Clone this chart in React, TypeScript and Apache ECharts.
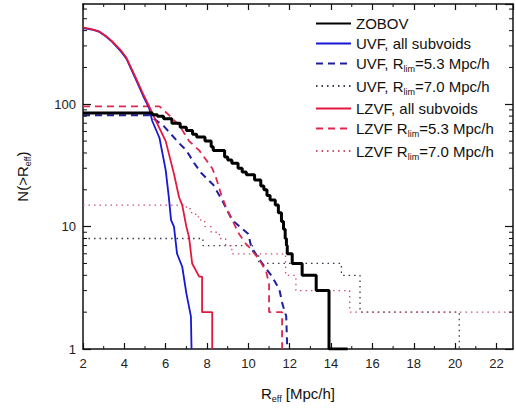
import React, { useEffect, useRef } from "react";
import * as echarts from "echarts";

const FONT = "Liberation Sans, Arial, Helvetica, sans-serif";

const X_MIN = 2;
const X_MAX = 22.8;
const Y_MIN = 1;
const Y_MAX = 660;

const SERIES_NAMES = [
  "ZOBOV",
  "UVF, all subvoids",
  "UVF, Rlim=5.3",
  "UVF, Rlim=7.0",
  "LZVF, all subvoids",
  "LZVF Rlim=5.3",
  "LZVF Rlim=7.0",
];

const LEGEND_LABELS: Record<string, string> = {
  "ZOBOV": "{n|ZOBOV}",
  "UVF, all subvoids": "{n|UVF, all subvoids}",
  "UVF, Rlim=5.3": "{n|UVF, R}{s|lim}{n|=5.3 Mpc/h}",
  "UVF, Rlim=7.0": "{n|UVF, R}{s|lim}{n|=7.0 Mpc/h}",
  "LZVF, all subvoids": "{n|LZVF, all subvoids}",
  "LZVF Rlim=5.3": "{n|LZVF R}{s|lim}{n|=5.3 Mpc/h}",
  "LZVF Rlim=7.0": "{n|LZVF R}{s|lim}{n|=7.0 Mpc/h}",
};

// [R_eff, N(>R_eff)] — level N starts at R (step "end")
const zobov = [
  [2, 85], [5.35, 82], [5.6, 80], [5.9, 76], [6.3, 70], [6.7, 65], [7.0, 61],
  [7.3, 57], [7.5, 54], [7.9, 50], [8.2, 45], [8.3, 42], [8.85, 37], [9.0, 35],
  [9.2, 33], [9.5, 30], [9.7, 28], [9.9, 26.5], [10.3, 24], [10.6, 21.5],
  [10.75, 20], [10.9, 18], [11.05, 16.5], [11.3, 15], [11.45, 13], [11.6, 11],
  [11.7, 9.5], [11.78, 8], [11.84, 7], [11.88, 6], [12.12, 5], [12.6, 4],
  [13.28, 3], [13.9, 1], [14.8, 1],
];

const uvfAll = [
  [2, 420], [2.5, 405], [2.8, 390], [3.1, 360], [3.4, 325], [3.8, 275],
  [4.1, 236], [4.6, 154], [4.9, 118], [5.2, 93], [5.35, 73], [5.7, 53],
  [6.0, 29], [6.15, 17.5], [6.26, 11.3], [6.4, 10], [6.55, 6], [6.8, 4.7],
  [7.0, 2.85], [7.22, 1.85], [7.25, 1],
];

const lzvfAll = [
  [2, 425], [2.5, 408], [2.8, 392], [3.1, 362], [3.4, 328], [3.8, 280],
  [4.1, 240], [4.6, 158], [4.9, 122], [5.2, 96], [5.5, 75], [6.0, 50],
  [6.4, 27], [6.65, 17.3], [6.8, 15], [7.0, 10], [7.13, 8.2], [7.28, 5],
  [7.62, 3.9], [7.76, 3.9], [7.76, 2], [8.25, 2], [8.25, 1],
];

const uvf53 = [
  [2, 81.5], [5.2, 81.5], [5.92, 66], [6.65, 48], [7.0, 42], [7.38, 33],
  [7.71, 27.6], [7.96, 25], [8.3, 22], [8.73, 16.4], [8.97, 13.6],
  [9.22, 11.3], [10.0, 8.7], [10.14, 6.8], [10.6, 5.2], [11.15, 3.9],
  [11.5, 3.06], [11.64, 2.36], [11.83, 1.85], [11.88, 1],
];

const lzvf53 = [
  [2, 96], [5.7, 96], [6.16, 81.5], [6.65, 67.6], [7.13, 50], [7.62, 42],
  [7.96, 35], [8.25, 30], [8.44, 25], [8.7, 18], [8.92, 14.4], [9.22, 11.3],
  [9.55, 8.7], [9.89, 7.2], [10.04, 6.8], [10.52, 5.4], [10.86, 4.3],
  [11.0, 3.4], [11.0, 2], [11.63, 2], [11.63, 1],
];

// step "end"
const uvf70 = [
  [2, 8], [7.8, 7], [10.2, 6], [10.5, 5], [14.5, 4], [15.4, 2], [20.2, 1],
];

const lzvf70 = [
  [2, 15], [7.0, 14], [7.2, 13], [7.45, 12], [7.7, 11], [7.9, 10], [8.2, 9],
  [8.6, 8], [8.9, 7], [9.2, 6], [11.8, 4], [12.3, 3], [14.9, 2], [22.8, 2],
];

const MINOR_Y = [2, 3, 4, 5, 6, 7, 8, 9, 20, 30, 40, 50, 60, 70, 80, 90, 200, 300, 400, 500, 600];
const MINOR_X = [3, 5, 7, 9, 11, 13, 15, 17, 19, 21];

const RICH = {
  n: { fontSize: 15, fontFamily: FONT, color: "#111", lineHeight: 20, verticalAlign: "middle" },
  s: { fontSize: 9, fontFamily: FONT, color: "#111", lineHeight: 10, verticalAlign: "bottom" },
};

function lineSeries(name: string, data: number[][], color: string, width: number, type: any, step?: string, z = 2) {
  return {
    name,
    type: "line",
    data,
    step: step || false,
    symbol: "none",
    showSymbol: false,
    z,
    lineStyle: { color, width, type },
    itemStyle: { color },
  };
}

export default function App() {
  const ref = useRef<HTMLDivElement>(null);
  useEffect(() => {
    if (!ref.current) return;
    const chart = echarts.init(ref.current, null, { renderer: "svg" });
    const axisLine = { show: true, onZero: false, lineStyle: { color: "#111", width: 1.5 } };
    const labelStyle = { color: "#222", fontSize: 13, fontFamily: FONT };
    chart.setOption({
      animation: false,
      backgroundColor: "#fff",
      grid: { left: 83, right: 3, top: 4, bottom: 55 },
      legend: {
        data: SERIES_NAMES,
        orient: "vertical",
        left: 315,
        top: 16,
        padding: 0,
        itemWidth: 35,
        itemHeight: 12,
        itemGap: 5,
        itemStyle: { opacity: 0, borderWidth: 0 },
        formatter: (name: string) => LEGEND_LABELS[name],
        textStyle: { rich: RICH, fontFamily: FONT, fontSize: 15, color: "#111" },
      },
      xAxis: [
        {
          type: "value", position: "bottom", min: X_MIN, max: X_MAX, interval: 2,
          axisLine,
          axisTick: { show: true, inside: true, length: 6, lineStyle: { color: "#111", width: 1.2 } },
          axisLabel: { ...labelStyle, margin: 8, showMaxLabel: false },
          splitLine: { show: false },
          name: "{n|R}{s|eff}{n| [Mpc/h]}",
          nameLocation: "middle",
          nameGap: 34,
          nameTextStyle: { rich: RICH },
        },
        {
          type: "value", position: "top", min: X_MIN, max: X_MAX, interval: 2,
          axisLine,
          axisTick: { show: true, inside: true, length: 6, lineStyle: { color: "#111", width: 1.2 } },
          axisLabel: { show: false },
          splitLine: { show: false },
        },
      ],
      yAxis: [
        {
          type: "log", logBase: 10, position: "left", min: Y_MIN, max: Y_MAX,
          axisLine,
          axisTick: { show: true, inside: true, length: 8, lineStyle: { color: "#111", width: 1.2 } },
          axisLabel: { ...labelStyle, margin: 7, showMaxLabel: false },
          splitLine: { show: false },
          name: "{n|N(>R}{s|eff}{n|)}",
          nameLocation: "middle",
          nameGap: 51,
          nameTextStyle: { rich: RICH },
        },
        {
          type: "log", logBase: 10, position: "right", min: Y_MIN, max: Y_MAX,
          axisLine,
          axisTick: { show: true, inside: true, length: 8, lineStyle: { color: "#111", width: 1.2 } },
          axisLabel: { show: false },
          splitLine: { show: false },
        },
      ],
      series: [
        lineSeries("UVF, Rlim=7.0", uvf70, "#3a3a4a", 1.3, [1.5, 4], "end", 2),
        lineSeries("LZVF Rlim=7.0", lzvf70, "#d0506c", 1.3, [1.5, 4], "end", 2),
        lineSeries("UVF, Rlim=5.3", uvf53, "#1f1fa0", 2, [7, 5], undefined, 3),
        lineSeries("LZVF Rlim=5.3", lzvf53, "#e0284e", 1.8, [7, 5], undefined, 3),
        lineSeries("UVF, all subvoids", uvfAll, "#1717d6", 1.8, "solid", undefined, 4),
        lineSeries("LZVF, all subvoids", lzvfAll, "#e4183e", 1.8, "solid", undefined, 4),
        lineSeries("ZOBOV", zobov, "#000000", 3, "solid", "end", 5),
        {
          type: "custom",
          silent: true,
          z: 6,
          clip: false,
          data: MINOR_Y.map((v) => [X_MIN, v]),
          renderItem: (params: any, api: any) => {
            const v = api.value(1);
            const p = api.coord([X_MIN, v]);
            const q = api.coord([X_MAX, v]);
            const st = { stroke: "#111", lineWidth: 1 };
            return {
              type: "group",
              children: [
                { type: "line", shape: { x1: p[0], y1: p[1], x2: p[0] + 4, y2: p[1] }, style: st },
                { type: "line", shape: { x1: q[0], y1: q[1], x2: q[0] - 4, y2: q[1] }, style: st },
              ],
            };
          },
        },
        {
          type: "custom",
          silent: true,
          z: 6,
          clip: false,
          data: MINOR_X.map((v) => [v, Y_MIN]),
          renderItem: (params: any, api: any) => {
            const v = api.value(0);
            const p = api.coord([v, Y_MIN]);
            const q = api.coord([v, Y_MAX]);
            const st = { stroke: "#111", lineWidth: 1 };
            return {
              type: "group",
              children: [
                { type: "line", shape: { x1: p[0], y1: p[1], x2: p[0], y2: p[1] - 3 }, style: st },
                { type: "line", shape: { x1: q[0], y1: q[1], x2: q[0], y2: q[1] + 3 }, style: st },
              ],
            };
          },
        },
      ],
    });
    return () => chart.dispose();
  }, []);
  return (
    <div
      ref={ref}
      style={{ position: "absolute", left: 0, top: 0, width: 516, height: 408, background: "#fff" }}
    />
  );
}
